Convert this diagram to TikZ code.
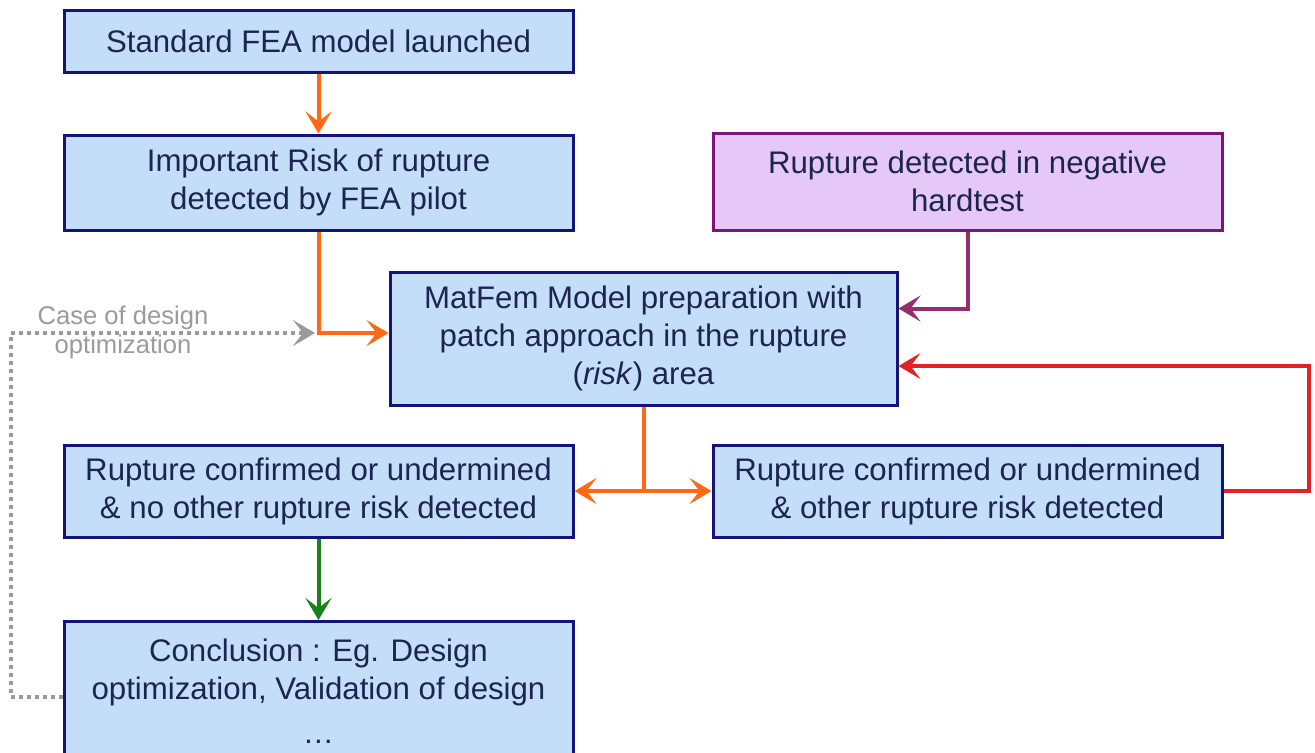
\documentclass[tikz,border=0pt]{standalone}
\usepackage{fontspec}
\setmainfont{Liberation Sans}
\usetikzlibrary{arrows.meta,calc}
\definecolor{boxfill}{RGB}{196,222,250}
\definecolor{boxdraw}{RGB}{20,20,120}
\definecolor{boxtext}{RGB}{28,36,80}
\definecolor{purplefill}{RGB}{230,200,248}
\definecolor{purpledraw}{RGB}{125,20,125}
\definecolor{orangec}{RGB}{255,105,20}
\definecolor{plumc}{RGB}{150,45,110}
\definecolor{redc}{RGB}{225,35,35}
\definecolor{greenc}{RGB}{25,130,25}
\definecolor{grayc}{RGB}{155,155,155}
\begin{document}
\begin{tikzpicture}[x=0.5pt,y=-0.5pt,
  flowbox/.style={draw=boxdraw,fill=boxfill,line width=1.5pt,minimum width=254.5pt,
    inner sep=0pt,align=center,text=boxtext,font=\fontsize{15.6}{19}\selectfont},
  tip/.style={-{Stealth[length=11pt,width=13pt,inset=5pt]}},
  conn/.style={line width=2pt,tip},
]
\clip (0,0) rectangle (1315,752);
\fill[white] (0,0) rectangle (1315,752);

\node[flowbox,minimum height=31pt] (b1) at (318.5,41) {Standard FEA model launched};
\node[flowbox,minimum height=47.5pt] (b2) at (318.5,182.5) {Important Risk of rupture\\detected by FEA pilot};
\node[flowbox,minimum height=48.5pt,fill=purplefill,draw=purpledraw] (b3) at (967.5,181.5) {Rupture detected in negative\\hardtest};
\node[flowbox,minimum width=253.5pt,minimum height=66.5pt] (b4) at (643.5,338.5) {MatFem Model preparation with\\patch approach in the rupture\\(\textit{risk}) area};
\node[flowbox,minimum height=46pt] (b5) at (318.5,491) {Rupture confirmed or undermined\\\& no other rupture risk detected};
\node[flowbox,minimum height=46pt] (b6) at (967.5,491) {Rupture confirmed or undermined\\\& other rupture risk detected};
\node[flowbox,minimum height=75pt,anchor=north] (b7) at (318.5,620) {};
\node[text=boxtext,align=center,font=\fontsize{15.6}{19}\selectfont,anchor=north] (b7t) at (318.5,632) {Conclusion : Eg. Design\\optimization, Validation of design\\[3pt]\dots};

% connectors
\draw[conn,orangec] (b1) -- (b2);
\draw[conn,orangec] (b2.south) |- ($(b4.west)+(0,-5.5)$);
\coordinate (gtip) at (315,333);
\draw[line width=2pt,grayc,dotted,tip] (b7.west) -- ++(-52,0) coordinate (gc) |- (gtip);
\node[text=grayc,align=center,font=\fontsize{12.8}{14.5}\selectfont] (glabel) at (123,332) {Case of design\\optimization};
\draw[conn,plumc] (b3.south) |- ($(b4.east)+(0,-30)$);
\draw[conn,redc] (b6.east) -- ++(85,0) |- ($(b4.east)+(0,27.5)$);
\coordinate (split) at (b4.south |- b5.east);
\draw[line width=2pt,orangec] (b4.south) -- (split);
\draw[conn,orangec] (split) -- (b5.east);
\draw[conn,orangec] (split) -- (b6.west);
\draw[conn,greenc] (b5) -- (b7);
\end{tikzpicture}
\end{document}
